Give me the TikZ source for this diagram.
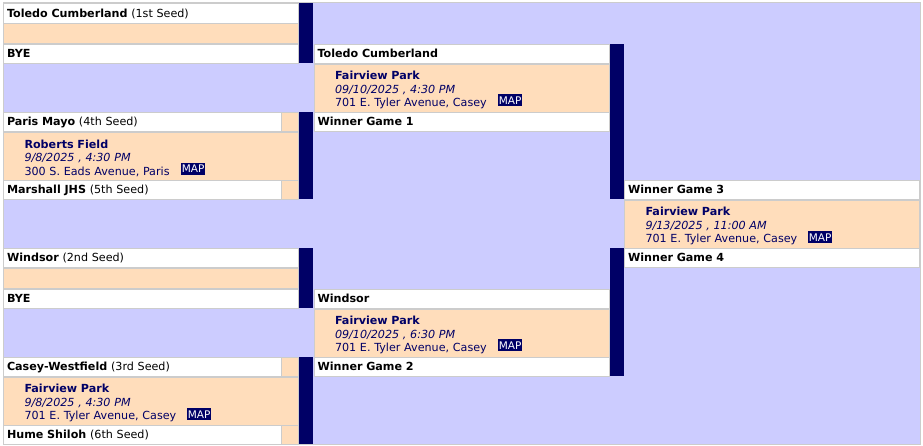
\documentclass[tikz,border=0pt]{standalone}
\usepackage{fontspec}
\setmainfont{DejaVu Sans}
\definecolor{navy}{HTML}{000066}
\definecolor{lav}{HTML}{CCCCFF}
\definecolor{peach}{HTML}{FFDDBB}
\definecolor{edge}{HTML}{CCCCCC}
\newcommand{\vs}{\rule{0pt}{13pt}}
\tikzset{
  cell/.style={draw=edge,line width=1pt,anchor=north west,outer sep=0pt,inner ysep=0pt,align=left},
  team/.style={cell,fill=white,minimum height=19.5pt,inner xsep=3.5pt,text height=10pt,text depth=2pt,font=\fontsize{11.15}{13}\selectfont},
  game/.style={cell,fill=peach,minimum height=48pt,inner xsep=21pt,text=navy,font=\fontsize{11.15}{13.4}\selectfont},
  spare/.style={cell,fill=peach,minimum height=20pt,minimum width=295pt},
  stub/.style={cell,fill=peach,minimum height=19.5pt,minimum width=17pt},
  bar/.style={anchor=north west,fill=navy,outer sep=0pt,inner sep=0pt,minimum width=14pt},
  map/.style={anchor=north west,fill=navy,text=white,inner sep=0pt,minimum width=24pt,minimum height=12pt,font=\fontsize{10.5}{12}\selectfont},
}
\begin{document}
\begin{tikzpicture}[x=1pt,y=-1pt]
\def\wa{278pt}
\def\wb{295pt}
\def\wc{295pt}
\def\ta{271pt}
\def\tb{288pt}
\def\tv{253pt}

\useasboundingbox (0,0) rectangle (923,445);
\node [anchor=north west,draw=edge,fill=lav,line width=1pt,inner sep=0pt,minimum width=917pt,minimum height=442pt,name=back] at (3,2) {};

% first round
\node [team,minimum width=\wb,text width=\tb,name=t1]   at (3.5,3.5) {\textbf{Toledo Cumberland} (1st Seed)};
\node [spare,name=s1]                                   at (3.5,23)  {};
\node [team,minimum width=\wb,text width=\tb,name=t2]   at (3.5,44)  {\textbf{BYE}};
\node [team,minimum width=\wa,text width=\ta,name=t3]   at (3.5,112) {\textbf{Paris Mayo} (4th Seed)};
\node [stub,name=s3]                                    at (281.5,112) {};
\node [game,minimum width=\wb,text width=\tv,name=g1]   at (3.5,132) {\vs\textbf{Roberts Field}\\\textit{9/8/2025 , 4:30 PM}\\300 S. Eads Avenue, Paris};
\node [team,minimum width=\wa,text width=\ta,name=t4]   at (3.5,180) {\textbf{Marshall JHS} (5th Seed)};
\node [stub,name=s4]                                    at (281.5,180) {};
\node [team,minimum width=\wb,text width=\tb,name=t5]   at (3.5,248) {\textbf{Windsor} (2nd Seed)};
\node [spare,name=s5]                                   at (3.5,268) {};
\node [team,minimum width=\wb,text width=\tb,name=t6]   at (3.5,289) {\textbf{BYE}};
\node [team,minimum width=\wa,text width=\ta,name=t7]   at (3.5,357) {\textbf{Casey-Westfield} (3rd Seed)};
\node [stub,name=s7]                                    at (281.5,357) {};
\node [game,minimum width=\wb,text width=\tv,name=g2]   at (3.5,377) {\vs\textbf{Fairview Park}\\\textit{9/8/2025 , 4:30 PM}\\701 E. Tyler Avenue, Casey};
\node [team,minimum width=\wa,text width=\ta,name=t8]   at (3.5,425) {\textbf{Hume Shiloh} (6th Seed)};
\node [stub,name=s8]                                    at (281.5,425) {};

% second round
\node [team,minimum width=\wb,text width=\tb,name=m1]   at (314,44)  {\textbf{Toledo Cumberland}};
\node [game,minimum width=\wb,text width=\tv,name=g3]   at (314,64)  {\vs\textbf{Fairview Park}\\\textit{09/10/2025 , 4:30 PM}\\701 E. Tyler Avenue, Casey};
\node [team,minimum width=\wb,text width=\tb,name=m2]   at (314,112) {\textbf{Winner Game 1}};
\node [team,minimum width=\wb,text width=\tb,name=m3]   at (314,289) {\textbf{Windsor}};
\node [game,minimum width=\wb,text width=\tv,name=g4]   at (314,309) {\vs\textbf{Fairview Park}\\\textit{09/10/2025 , 6:30 PM}\\701 E. Tyler Avenue, Casey};
\node [team,minimum width=\wb,text width=\tb,name=m4]   at (314,357) {\textbf{Winner Game 2}};

% final
\node [team,minimum width=\wc,text width=\tb,name=f1]   at (624.5,180) {\textbf{Winner Game 3}};
\node [game,minimum width=\wc,text width=\tv,name=g5]   at (624.5,200) {\vs\textbf{Fairview Park}\\\textit{9/13/2025 , 11:00 AM}\\701 E. Tyler Avenue, Casey};
\node [team,minimum width=\wc,text width=\tb,name=f2]   at (624.5,248) {\textbf{Winner Game 4}};

% bars
\node [bar,minimum height=60pt,name=b1]   at (299,3)   {};
\node [bar,minimum height=87pt,name=b2]   at (299,112) {};
\node [bar,minimum height=60pt,name=b3]   at (299,248) {};
\node [bar,minimum height=87pt,name=b4]   at (299,357) {};
\node [bar,minimum height=155pt,name=b5]  at (610,44)  {};
\node [bar,minimum height=128pt,name=b6]  at (610,248) {};

% map tags
\node [map,name=p1] at (181,162.5) {MAP};
\node [map,name=p2] at (187,408)   {MAP};
\node [map,name=p3] at (498,94)    {MAP};
\node [map,name=p4] at (498,339)   {MAP};
\node [map,name=p5] at (808,231)   {MAP};
\end{tikzpicture}
\end{document}
